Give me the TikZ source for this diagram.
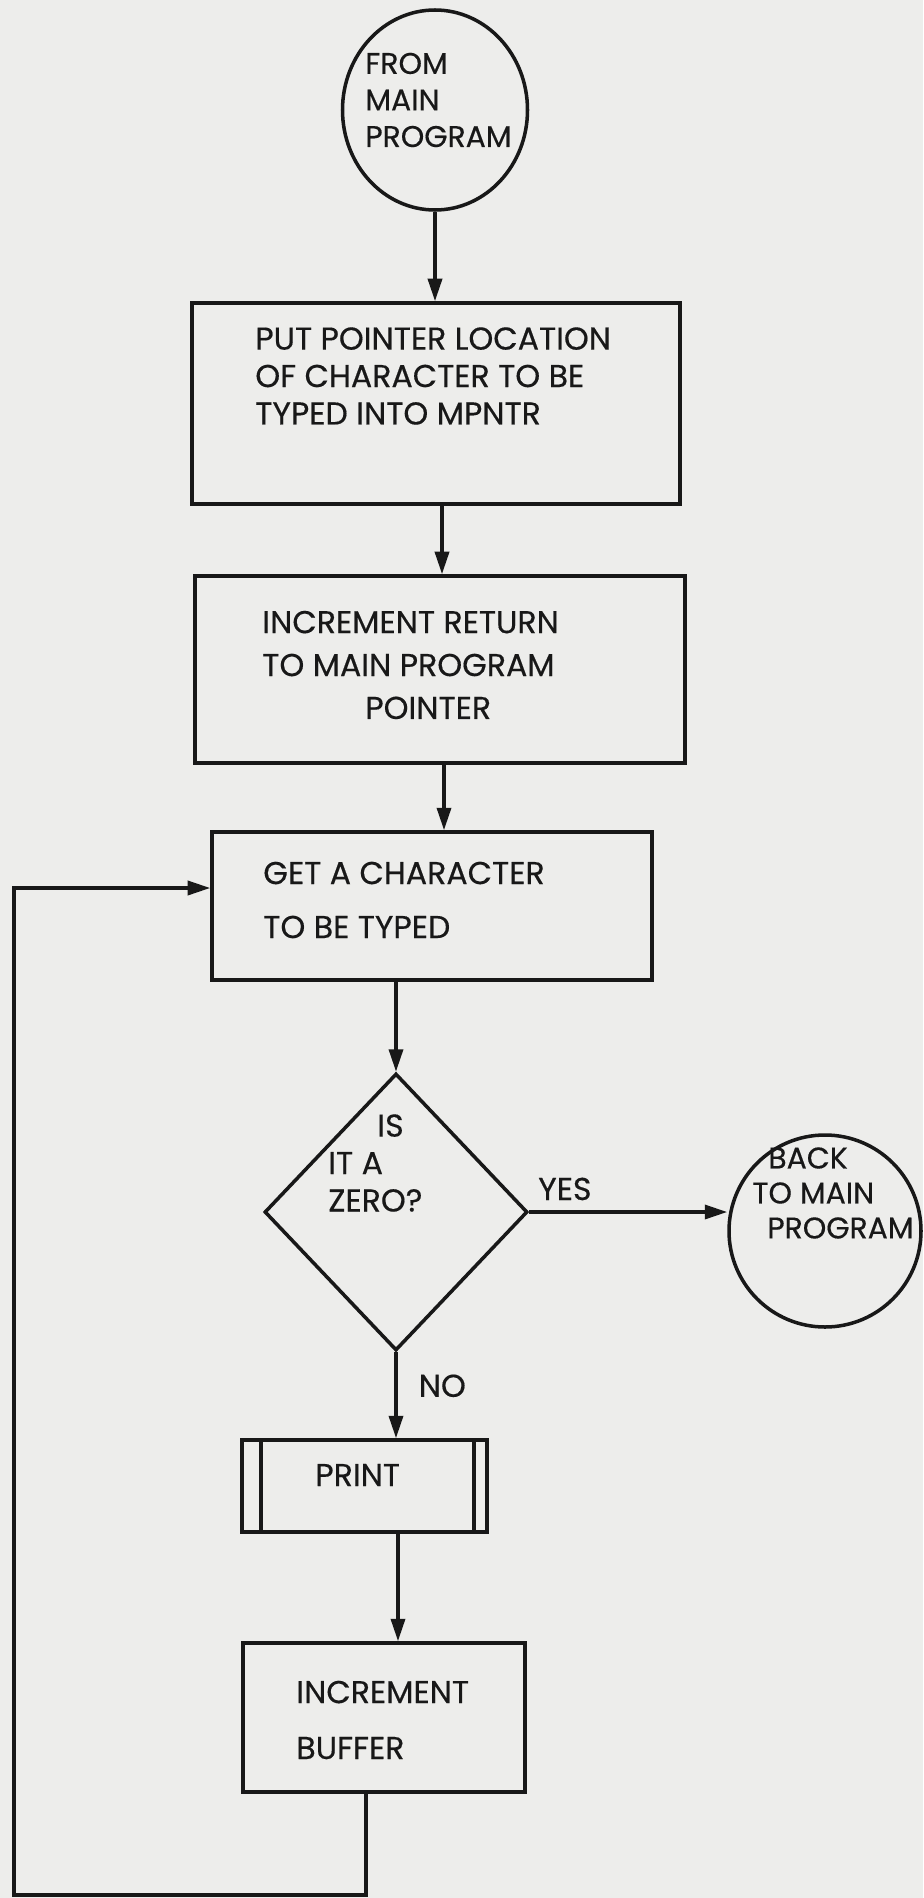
\documentclass[tikz,border=0pt]{standalone}
\usepackage{fontspec}
\setmainfont{Poppins}[FakeBold=0.4]
\usetikzlibrary{shapes.geometric, arrows.meta, positioning, calc}
\definecolor{paper}{RGB}{237,237,235}
\definecolor{ink}{RGB}{24,24,24}
\tikzset{
  procbox/.style={rectangle, draw=ink, line width=2pt, inner sep=0pt},
  termcircle/.style={ellipse, draw=ink, line width=2pt, inner sep=0pt},
  decision/.style={diamond, draw=ink, line width=2pt, inner sep=0pt},
  boxtext/.style={anchor=west, inner sep=0pt, align=left, text=ink,
    font=\fontsize{18}{21.3}\selectfont},
  arrow/.style={-{Triangle[length=0.45cm, width=0.28cm]}, line width=2pt, color=ink},
  line/.style={line width=2pt, color=ink}
}

\begin{document}
\begin{tikzpicture}
  \fill[paper] (0,0) rectangle (18.46,-37.96);
  \useasboundingbox (0,0) rectangle (18.46,-37.96);

  % Terminals
  \node[termcircle, minimum width=3.70cm, minimum height=4.0cm] (start) at (8.70,-2.20) {};
  \node[boxtext, font=\fontsize{17}{20.8}\selectfont] (starttxt) at (7.30,-2.00) {FROM\\MAIN\\PROGRAM};

  \node[termcircle, minimum size=3.84cm] (back) at (16.50,-24.62) {};
  \node[boxtext, font=\fontsize{17}{19.9}\selectfont] (backtxt) at (15.04,-23.86) {\hspace*{0.32cm}BACK\\TO MAIN\\\hspace*{0.30cm}PROGRAM};

  % Blocks
  \node[procbox, minimum width=9.76cm, minimum height=4.02cm] (putptr) at (8.72,-8.07) {};
  \node[boxtext] (putptrtxt) at (5.10,-7.52) {PUT POINTER LOCATION\\OF CHARACTER TO BE\\TYPED INTO MPNTR};

  \node[procbox, minimum width=9.80cm, minimum height=3.74cm] (incret) at (8.80,-13.39) {};
  \node[boxtext, font=\fontsize{18}{24.4}\selectfont] (increttxt) at (5.24,-13.30) {INCREMENT RETURN\\TO MAIN PROGRAM\\\hspace*{2.06cm}POINTER};

  \node[procbox, minimum width=8.80cm, minimum height=2.96cm] (getchar) at (8.64,-18.12) {};
  \node[boxtext, font=\fontsize{18}{30.7}\selectfont] (getchartxt) at (5.26,-18.00) {GET A CHARACTER\\TO BE TYPED};

  \node[decision, minimum width=5.26cm, minimum height=5.54cm] (zero) at (7.92,-24.24) {};
  \node[boxtext] (zerotxt) at (6.56,-23.26) {\hspace*{0.98cm}IS\\IT A\\ZERO?};

  \node[procbox, minimum width=4.90cm, minimum height=1.84cm] (print) at (7.29,-29.72) {};
  \draw[line] ([xshift=0.42cm]print.north west) -- ([xshift=0.42cm]print.south west);
  \draw[line] ([xshift=-0.30cm]print.north east) -- ([xshift=-0.30cm]print.south east);
  \node[boxtext] (printtxt) at (6.30,-29.50) {PRINT};

  \node[procbox, minimum width=5.64cm, minimum height=2.98cm] (incbuf) at (7.68,-34.35) {};
  \node[boxtext, font=\fontsize{18}{31.8}\selectfont] (incbuftxt) at (5.92,-34.40) {INCREMENT\\BUFFER};

  \coordinate (loopbot) at (0.28,-37.90);

  % Flows
  \draw[arrow] (start.south) -- (start.south |- putptr.north);
  \draw[arrow] ([xshift=0.12cm]putptr.south) -- ([xshift=0.12cm]putptr.south |- incret.north);
  \draw[arrow] ([xshift=0.08cm]incret.south) -- ([xshift=0.08cm]incret.south |- getchar.north);
  \draw[arrow] (zero.north |- getchar.south) -- (zero.north);
  \draw[arrow] (zero.east) -- (zero.east -| back.west) node[boxtext, pos=0.18, above=0.2cm] (yes) {YES};
  \draw[arrow] (zero.south) -- (zero.south |- print.north) node[boxtext, pos=0.39, right=0.42cm] (no) {NO};
  \draw[arrow] ([xshift=0.67cm]print.south) -- ([xshift=0.67cm]print.south |- incbuf.north);
  \draw[arrow] ([xshift=-0.36cm]incbuf.south) |- (loopbot) |- ([yshift=0.36cm]getchar.west);
\end{tikzpicture}
\end{document}
